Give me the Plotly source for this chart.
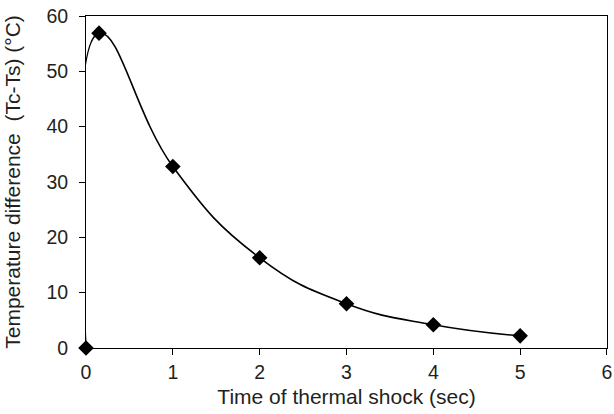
import plotly.graph_objects as go

time_sec = [0, 0.15, 1, 2, 3, 4, 5]
temp_diff = [0, 56.9, 32.8, 16.3, 8.0, 4.2, 2.2]
x_ticks = [0, 1, 2, 3, 4, 5, 6]
y_ticks = [0, 10, 20, 30, 40, 50, 60]

fig = go.Figure()
fig.add_trace(go.Scatter(
    x=time_sec, y=temp_diff, mode="lines+markers",
    line=dict(color="black", width=1.6, shape="spline", smoothing=1.3),
    marker=dict(symbol="diamond", size=12, color="black"),
    showlegend=False, cliponaxis=False,
))

family = "Liberation Sans, Arial, sans-serif"
tick_font = dict(family=family, size=19.5, color="#231f20")
title_font = dict(family=family, size=21, color="#231f20")
fig.update_layout(
    width=614, height=414,
    margin=dict(l=86, r=7, t=16, b=66),
    paper_bgcolor="white", plot_bgcolor="white",
    font=tick_font,
)
fig.update_xaxes(
    range=[-0.0001, 6.0001], tickvals=x_ticks, ticks="outside", ticklen=6, tickcolor="black",
    showline=True, linecolor="black", linewidth=1, mirror=True,
    showgrid=False, zeroline=False, automargin=False,
    title=dict(text="Time of thermal shock (sec)", standoff=6, font=title_font),
    tickfont=tick_font, ticklabeloverflow="allow", ticklabelstandoff=1,
)
fig.update_yaxes(
    range=[-0.0001, 60.0001], tickvals=y_ticks, ticks="outside", ticklen=6, tickcolor="black",
    showline=True, linecolor="black", linewidth=1, mirror=True,
    showgrid=False, zeroline=False, automargin=False,
    title=dict(text="Temperature difference  (Tc-Ts) (°C)", standoff=20, font=title_font),
    tickfont=tick_font, ticklabelstandoff=7,
)
fig.write_html("out.html", post_script="document.body.style.margin='0';",
               config={"displayModeBar": False})
